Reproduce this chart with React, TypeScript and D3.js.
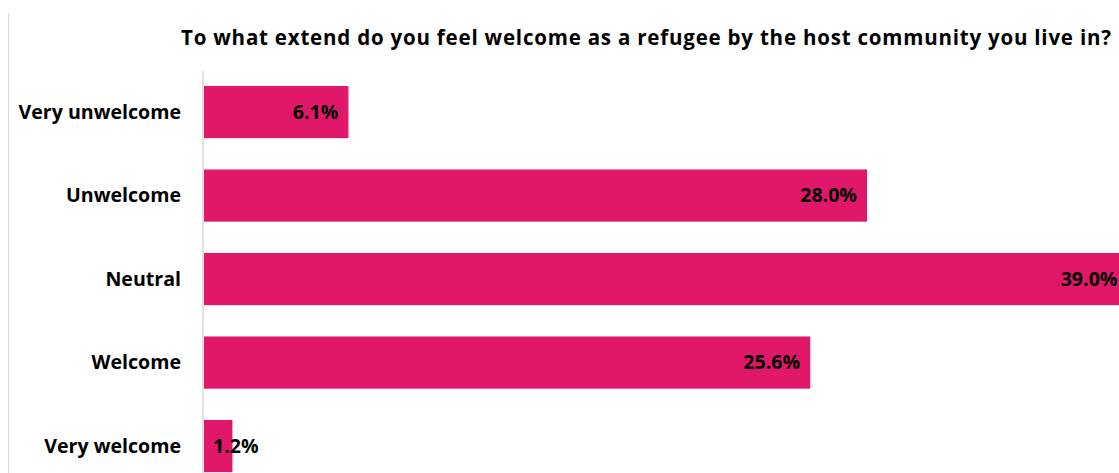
import React from "react";
import * as d3 from "d3";

const categories = ["Very unwelcome", "Unwelcome", "Neutral", "Welcome", "Very welcome"];
const values = [6.1, 28.0, 39.0, 25.6, 1.2];
const valueLabels = ["6.1%", "28.0%", "39.0%", "25.6%", "1.2%"];
const title = "To what extend do you feel welcome as a refugee by the host community you live in?";

const W = 1119;
const H = 473;
const FONT = "'Open Sans', sans-serif";

export default function App() {
  const x0 = 204;
  const x = d3.scaleLinear().domain([0, 1]).range([x0, x0 + 23.68]);
  const y = d3.scaleBand<string>().domain(categories).range([70.3, 487.8]).paddingInner(0.375).paddingOuter(0.1875);
  const bh = y.bandwidth();

  return (
    <svg width={W} height={H} style={{ position: "absolute", left: 0, top: 0, background: "#fff" }}>
      <line x1={8.5} x2={8.5} y1={13} y2={H} stroke="#d9d9d9" strokeWidth={1} />
      <text
        x={181}
        y={45}
        textLength={930}
        lengthAdjust="spacing"
        fontFamily={FONT}
        fontWeight={700}
        fontSize={20.5}
        fill="#000"
      >
        {title}
      </text>
      {categories.map((c, i) => {
        const yy = y(c)!;
        const xe = x(values[i]);
        const small = xe - x0 < 60;
        return (
          <g key={c}>
            <rect x={x0} y={yy} width={xe - x0} height={bh} fill="#E1186A" />
            <text x={181} y={yy + bh / 2 + 6.5} textAnchor="end" fontFamily={FONT} fontWeight={700} fontSize={19.6} fill="#000">
              {c}
            </text>
            <text
              x={small ? x0 + 9 : xe - 10}
              y={yy + bh / 2 + 6.5}
              textAnchor={small ? "start" : "end"}
              fontFamily={FONT}
              fontWeight={700}
              fontSize={19.6}
              fill="#000"
            >
              {valueLabels[i]}
            </text>
          </g>
        );
      })}
      <line x1={203} x2={203} y1={71} y2={H} stroke="#d9d9d9" strokeWidth={1.5} />
    </svg>
  );
}
